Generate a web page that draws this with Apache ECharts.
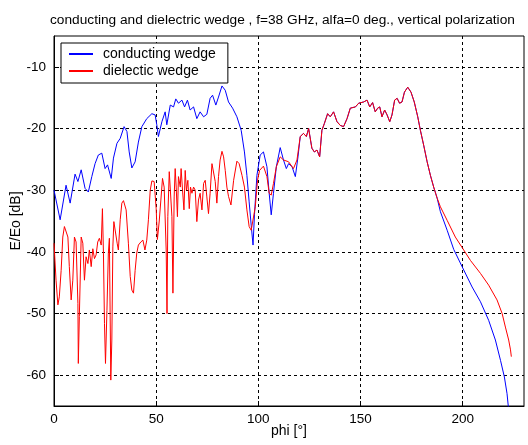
<!DOCTYPE html>
<html><head><meta charset="utf-8">
<script src="https://cdn.jsdelivr.net/npm/echarts@6/dist/echarts.min.js"></script>
<style>html,body{margin:0;padding:0;background:#fff}#c{width:528px;height:445px}</style>
</head><body><div id="c"></div>
<script>
const titleText = 'conducting and dielectric wedge , f=38 GHz, alfa=0 deg., vertical polarization';
const seriesNames = ['conducting wedge', 'dielectic wedge'];
const xName = 'phi [°]';
const yName = 'E/Eo [dB]';

const condPhi = [0,3.0,5.9,7.9,10.3,11.7,13.3,15.2,16.8,18.5,20.1,21.7,23.4,25.0,26.2,28.0,29.1,30.8,32.4,34.3,35.7,36.8,38.1,39.7,41.3,43.0,45.4,47.9,49.5,50.3,51.1,52.8,54.4,55.2,56.9,58.5,59.6,60.9,62.6,63.9,65.3,66.6,68.3,69.9,71.5,73.2,74.8,76.4,77.6,79.2,80.5,82.2,83.8,85.4,87.4,89.5,91.6,93.2,94.4,95.5,96.5,97.4,98.1,99.3,100.9,102.5,104.2,105.3,106.3,107.4,108.8,110.7,112.3,113.7,114.8,116.5,118.1,119.4,120.5,122.1,123.5,124.6,126.2,127.4,128.7,130.0,131.1,132.3,133.9,135.2,136.8,138.5,140.1,141.7,143.4,145.0,147.5,149.1,151.5,153.2,154.5,155.9,157.2,158.4,159.4,160.5,161.8,163.0,164.3,165.4,166.7,167.9,169.1,170.3,171.5,173.1,174.7,176.3,178.0,179.3,180.9,182.6,184.2,185.8,187.5,189.1,192.4,195.6,199.7,204.6,208.7,212.7,216.0,218.5,220.4,221.7,222.6];
const condDb = [-30.0,-34.8,-29.2,-32.1,-27.4,-28.6,-26.7,-29.7,-30.3,-27.8,-25.7,-24.3,-24.0,-26.5,-25.9,-28.1,-24.8,-22.4,-21.6,-19.7,-20.5,-23.8,-26.4,-25.4,-22.2,-19.7,-18.4,-17.6,-17.8,-19.4,-21.3,-18.9,-17.3,-19.4,-16.2,-16.5,-15.2,-15.9,-15.4,-16.5,-15.4,-17.0,-16.5,-18.4,-17.3,-18.1,-17.7,-15.1,-14.6,-16.2,-14.9,-13.1,-13.8,-15.7,-16.7,-18.1,-20.3,-23.8,-27.6,-31.9,-35.7,-38.9,-34.0,-27.6,-24.3,-23.8,-26.2,-30.5,-34.0,-30.5,-26.2,-23.1,-25.1,-26.5,-25.7,-26.2,-27.8,-24.6,-21.3,-20.8,-21.3,-20.0,-23.2,-23.8,-23.5,-24.6,-20.3,-19.2,-17.6,-18.1,-17.3,-18.9,-19.5,-19.7,-18.4,-16.7,-16.5,-15.9,-15.7,-15.4,-16.5,-15.8,-17.3,-16.7,-16.5,-18.1,-17.0,-17.8,-18.9,-17.8,-15.4,-15.1,-15.9,-15.7,-14.1,-13.3,-14.1,-15.7,-18.1,-20.3,-22.7,-25.4,-27.6,-29.5,-31.3,-33.5,-36.5,-39.6,-42.4,-45.7,-48.1,-51.1,-54.3,-57.6,-60.3,-63.0,-66.0];

const dielPhi = [0,1.0,1.9,2.6,3.5,4.3,5.1,5.9,6.8,7.5,8.4,9.2,10.0,10.8,11.7,11.9,12.4,13.3,14.1,14.9,15.7,16.6,17.3,18.2,19.0,19.8,20.6,21.4,22.2,23.1,23.7,24.2,24.7,25.2,25.9,26.6,27.1,27.8,28.3,28.8,29.3,30.1,30.9,31.5,32.4,33.2,34.0,35.3,36.4,37.3,38.1,38.9,39.7,40.5,41.3,42.5,43.5,44.5,45.4,46.2,47.1,47.9,49.0,50.0,50.6,51.5,52.3,53.1,53.9,54.9,55.3,55.7,56.4,57.2,57.7,58.2,58.8,59.3,59.8,60.4,60.9,61.8,62.2,62.9,63.6,64.2,64.8,65.5,66.2,66.8,67.5,68.3,69.1,69.9,70.7,71.5,72.4,73.2,74.0,74.8,75.6,76.4,77.3,78.1,78.9,79.7,80.5,81.3,82.2,83.0,83.8,84.6,85.4,86.6,87.9,89.5,90.6,92.0,93.2,94.4,95.5,96.5,97.2,98.5,99.6,100.6,102.5,104.2,105.3,106.3,107.4,108.8,110.7,112.3,114.8,117.2,118.9,120.5,122.1,123.5,124.6,126.2,127.4,128.7,130.0,131.1,132.3,133.9,135.2,136.8,138.5,140.1,141.7,143.4,145.0,147.5,149.1,151.5,153.2,154.5,155.9,157.2,158.4,159.4,160.5,161.8,163.0,164.3,165.4,166.7,167.9,169.1,170.3,171.5,173.1,174.7,176.3,178.0,179.3,180.9,182.6,184.2,185.8,187.5,189.1,192.4,196.4,200.5,203.8,208.7,212.7,216.8,219.3,220.9,222.5,223.4,223.8];
const dielDb = [-38.6,-44.6,-48.6,-47.3,-43.0,-37.6,-35.9,-35.7,-37.6,-42.4,-47.8,-44.6,-37.6,-38.4,-48.4,-58.1,-50.5,-37.6,-38.6,-44.6,-40.8,-41.9,-39.7,-42.4,-39.5,-41.1,-40.5,-38.4,-37.8,-38.9,-33.0,-40.2,-51.6,-58.1,-49.5,-40.2,-37.8,-60.8,-54.3,-39.2,-35.1,-35.4,-38.6,-39.7,-34.8,-32.1,-31.7,-33.2,-38.6,-44.0,-46.2,-46.7,-43.0,-40.2,-38.9,-38.4,-38.1,-39.7,-38.1,-34.8,-30.0,-28.5,-28.6,-33.0,-38.0,-35.0,-31.6,-28.1,-29.5,-39.7,-50.0,-34.3,-27.0,-27.3,-34.3,-46.7,-31.1,-26.5,-29.5,-34.3,-27.8,-29.5,-26.5,-30.0,-33.2,-26.8,-30.0,-28.4,-33.0,-29.5,-30.5,-29.5,-30.0,-35.1,-31.6,-30.5,-33.2,-28.9,-28.4,-31.1,-33.8,-30.5,-25.7,-25.7,-28.6,-32.1,-27.8,-25.1,-23.7,-24.6,-26.8,-29.5,-31.0,-32.4,-28.4,-25.3,-25.7,-27.6,-29.5,-33.2,-35.9,-36.5,-36.7,-32.7,-28.4,-26.8,-26.1,-27.8,-30.5,-30.8,-28.9,-26.2,-24.6,-25.1,-25.4,-26.5,-25.1,-21.3,-20.8,-21.3,-20.0,-23.2,-23.8,-23.5,-24.6,-20.3,-19.2,-17.6,-18.1,-17.3,-18.9,-19.5,-19.7,-18.4,-16.7,-16.5,-15.9,-15.7,-15.4,-16.5,-15.8,-17.3,-16.7,-16.5,-18.1,-17.0,-17.8,-18.9,-17.8,-15.4,-15.1,-15.9,-15.7,-14.1,-13.3,-14.1,-15.7,-18.1,-20.3,-22.7,-25.4,-27.6,-29.5,-31.3,-32.7,-34.9,-37.6,-39.7,-41.4,-43.5,-45.4,-47.8,-50.0,-52.2,-54.3,-55.9,-57.0];

const xMin = 0, xMax = 230, xStep = 50;
const yMin = -65, yMax = -5;

const zip = (a, b) => a.map((v, i) => [v, b[i]]);
const FONT = 'Liberation Sans, Arial, sans-serif';
const chart = echarts.init(document.getElementById('c'), null, {renderer: 'canvas'});
const gridLine = {show: true, lineStyle: {color: '#000', type: [3, 3], width: 1}, showMinLine: false, showMaxLine: false};
chart.setOption({
  animation: false,
  backgroundColor: '#fff',
  title: {
    text: titleText, left: 50, top: 13, padding: 0,
    textStyle: {fontFamily: FONT, fontSize: 13.7, fontWeight: 'normal', color: '#000'}
  },
  legend: {
    orient: 'vertical', left: 61, top: 43,
    data: seriesNames,
    backgroundColor: '#fff', borderColor: '#000', borderWidth: 1, borderRadius: 0,
    padding: [4, 12, 5, 7], itemWidth: 24, itemHeight: 14, itemGap: 3,
    itemStyle: {opacity: 0},
    textStyle: {fontFamily: FONT, fontSize: 14, color: '#000', padding: [0, 0, 0, 5]}
  },
  grid: {left: 54, right: 4, top: 36, bottom: 39, show: true, borderColor: '#000', borderWidth: 1, backgroundColor: '#fff', containLabel: false, outerBoundsMode: 'none'},
  xAxis: {
    type: 'value', min: xMin, max: xMax, interval: xStep,
    name: xName, nameLocation: 'middle', nameGap: 18, nameMoveOverlap: false,
    nameTextStyle: {fontFamily: FONT, fontSize: 14, color: '#000'},
    axisLine: {show: true, lineStyle: {color: '#000'}},
    axisTick: {show: true, inside: true, length: 5, lineStyle: {color: '#000'}},
    axisLabel: {fontFamily: FONT, fontSize: 13.5, color: '#000', margin: 6, showMaxLabel: false},
    splitLine: gridLine
  },
  yAxis: {
    type: 'value', min: yMin, max: yMax, splitNumber: 6,
    name: yName, nameLocation: 'middle', nameGap: 31, nameMoveOverlap: false,
    nameTextStyle: {fontFamily: FONT, fontSize: 14, color: '#000'},
    axisLine: {show: true, lineStyle: {color: '#000'}},
    axisTick: {show: true, inside: true, length: 5, lineStyle: {color: '#000'}},
    axisLabel: {fontFamily: FONT, fontSize: 13.5, color: '#000', margin: 8, showMinLabel: false, showMaxLabel: false},
    splitLine: gridLine
  },
  series: [
    {name: seriesNames[0], type: 'line', data: zip(condPhi, condDb), symbol: 'none', lineStyle: {color: '#0000ff', width: 1}, itemStyle: {color: '#0000ff'}, clip: true},
    {name: seriesNames[1], type: 'line', data: zip(dielPhi, dielDb), symbol: 'none', lineStyle: {color: '#ff0000', width: 1}, itemStyle: {color: '#ff0000'}, clip: true}
  ]
});
</script>
</body></html>
